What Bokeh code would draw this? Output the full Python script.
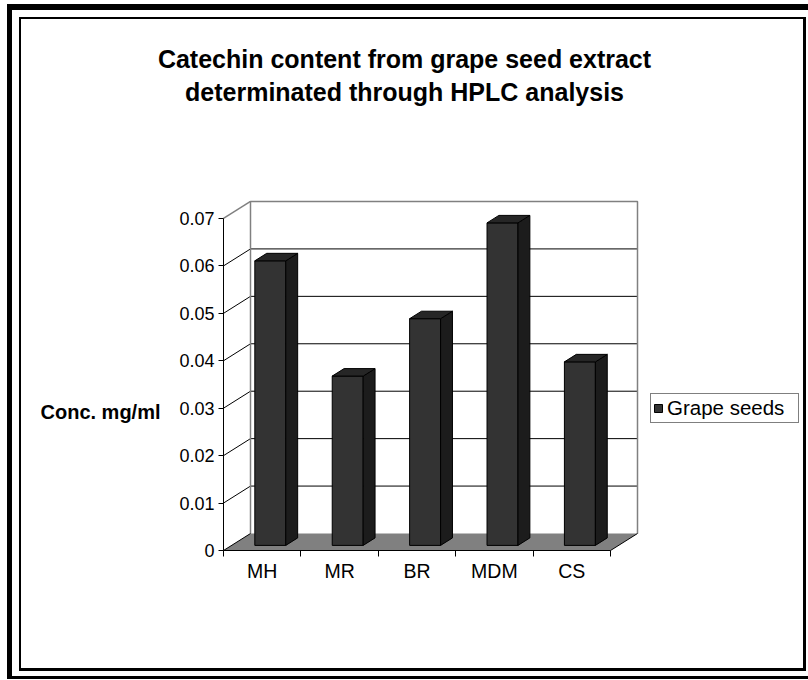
from bokeh.plotting import figure
from bokeh.models import (Range1d, FixedTicker, Legend, LegendItem, Label,
                          LinearAxis, InlineStyleSheet)
from bokeh.embed import file_html
from bokeh.resources import INLINE

# ---------------- data ----------------
categories = ["MH", "MR", "BR", "MDM", "CS"]
conc = [0.0600, 0.0357, 0.0478, 0.0680, 0.0387]
y_ticks = [0, 0.01, 0.02, 0.03, 0.04, 0.05, 0.06, 0.07]
y_tick_labels = ["0", "0.01", "0.02", "0.03", "0.04", "0.05", "0.06", "0.07"]
series_name = "Grape seeds"
title_lines = ["Catechin content from grape seed extract",
               "determinated through HPLC analysis"]
y_label = "Conc. mg/ml"

# ---------------- style / geometry ----------------
FONT = "Liberation Sans"
N = len(categories)
Y_MAX = y_ticks[-1]
W, H = 808, 680
X0_PX, Y0_PX = 223, 550      # screen position of the front axis origin
PX_X = 77.4                  # screen px per category slot
PX_Y = 4743.0                # screen px per unit of concentration
DX = 27 / PX_X               # depth offset of the 3-D box (data units)
DY = 17 / PX_Y
F0, F1 = 0.30, 0.74          # bar front / back depth fractions
HALF_W = 0.20


def sx(px):
    return (px - X0_PX) / PX_X


def sy(py):
    return (Y0_PX - py) / PX_Y


css = InlineStyleSheet(css=""":host { background-color: #ffffff;
 box-shadow:
   inset 7px 0 0 0 #fff, inset 0 4px 0 0 #fff, inset 0 -1px 0 0 #fff,
   inset 12px 0 0 0 #000, inset 0 10px 0 0 #000, inset 0 -4px 0 0 #000,
   inset 19px 0 0 0 #fff, inset 0 17px 0 0 #fff, inset -2px 0 0 0 #fff, inset 0 -9px 0 0 #fff,
   inset 21px 0 0 0 #000, inset 0 19px 0 0 #000, inset -5px 0 0 0 #000, inset 0 -12px 0 0 #000; }""")

p = figure(width=W, height=H,
           x_range=Range1d(sx(0), sx(W)), y_range=Range1d(sy(H), sy(0)),
           x_axis_type=None, y_axis_type=None,
           output_backend="svg", toolbar_location=None,
           min_border=0, stylesheets=[css])
p.border_fill_color = None
p.background_fill_color = None
p.outline_line_color = None

# back wall
p.quad(left=[DX], right=[N + DX], bottom=[DY], top=[Y_MAX + DY],
       fill_color="white", line_color=None)
grid_vals = y_ticks[1:-1]
p.segment(x0=[DX] * len(grid_vals), y0=[v + DY for v in grid_vals],
          x1=[N + DX] * len(grid_vals), y1=[v + DY for v in grid_vals],
          line_color="black", line_width=1)
# side wall diagonals
p.segment(x0=[0] * len(grid_vals), y0=grid_vals,
          x1=[DX] * len(grid_vals), y1=[v + DY for v in grid_vals],
          line_color="black", line_width=1)
# wall edges (gray)
p.multi_line(xs=[[DX, DX, N + DX, N + DX], [0, DX]],
             ys=[[DY, Y_MAX + DY, Y_MAX + DY, DY], [Y_MAX, Y_MAX + DY]],
             line_color="#808080", line_width=1.5)
# floor
p.patch(x=[0, N, N + DX, DX], y=[0, 0, DY, DY], fill_color="#808080", line_color=None)
p.segment(x0=[0, N], y0=[0, 0], x1=[DX, N + DX], y1=[DY, DY],
          line_color="black", line_width=1)

# bars
ox0, oy0 = F0 * DX, F0 * DY
ox1, oy1 = F1 * DX, F1 * DY
centers = [i + 0.5 for i in range(N)]
front = p.quad(left=[c - HALF_W + ox0 for c in centers],
               right=[c + HALF_W + ox0 for c in centers],
               bottom=[oy0] * N, top=[v + oy0 for v in conc],
               fill_color="#333333", line_color="black", line_width=1)
side_xs, side_ys, top_xs, top_ys = [], [], [], []
for c, v in zip(centers, conc):
    r0, r1 = c + HALF_W + ox0, c + HALF_W + ox1
    l0, l1 = c - HALF_W + ox0, c - HALF_W + ox1
    side_xs.append([r0, r1, r1, r0])
    side_ys.append([oy0, oy1, v + oy1, v + oy0])
    top_xs.append([l0, l1, r1, r0])
    top_ys.append([v + oy0, v + oy1, v + oy1, v + oy0])
p.patches(xs=side_xs, ys=side_ys, fill_color="#1c1c1c", line_color="black", line_width=1)
p.patches(xs=top_xs, ys=top_ys, fill_color="#262626", line_color="black", line_width=1)

# axes (fixed at the front origin of the 3-D box)
yaxis = LinearAxis(ticker=FixedTicker(ticks=y_ticks), bounds=(0, Y_MAX), fixed_location=0,
                   major_label_overrides=dict(zip(y_ticks, y_tick_labels)),
                   major_tick_out=5, major_tick_in=0, minor_tick_out=0, minor_tick_in=0,
                   axis_line_color="black", major_tick_line_color="black",
                   major_label_standoff=4, major_label_text_font=FONT,
                   major_label_text_font_size="18px", major_label_text_color="black")
p.add_layout(yaxis, "left")
xaxis = LinearAxis(ticker=FixedTicker(ticks=centers, minor_ticks=list(range(N + 1))),
                   bounds=(0, N), fixed_location=0,
                   major_label_overrides=dict(zip(centers, categories)),
                   major_tick_out=0, major_tick_in=0, minor_tick_out=6, minor_tick_in=0,
                   axis_line_color="black", minor_tick_line_color="black",
                   major_label_standoff=3, major_label_text_font=FONT,
                   major_label_text_font_size="19.5px", major_label_text_color="black")
p.add_layout(xaxis, "below")
p.grid.visible = False

# title and y label
for line, py in zip(title_lines, [58, 91]):
    p.add_layout(Label(x=sx(404), y=sy(py), text=line, text_align="center",
                       text_baseline="alphabetic", text_font=FONT,
                       text_font_style="bold", text_font_size="25px", text_color="black"))
p.add_layout(Label(x=sx(40), y=sy(411), text=y_label,
                   text_align="left", text_baseline="middle", text_font=FONT,
                   text_font_style="bold", text_font_size="20px", text_color="black"))

legend = Legend(items=[LegendItem(label=series_name, renderers=[front])],
                location=(650, H - 423), orientation="vertical",
                label_text_font=FONT, label_text_font_size="20.5px", label_text_color="black",
                glyph_width=10, glyph_height=10, label_standoff=4, padding=2, margin=0,
                label_width=129, spacing=0, border_line_color="black", border_line_width=1,
                background_fill_color="white", background_fill_alpha=1)
p.add_layout(legend, "center")

open("out.html", "w").write(file_html(p, INLINE))
